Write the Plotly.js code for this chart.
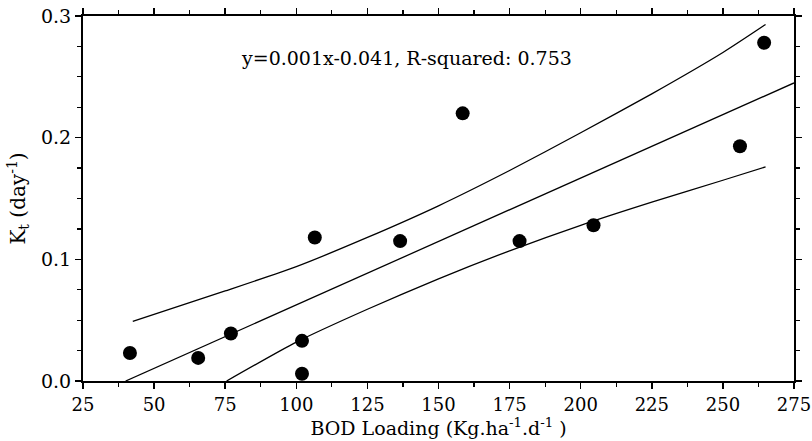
<!DOCTYPE html>
<html>
<head>
<meta charset="utf-8">
<script src="https://cdn.plot.ly/plotly-3.0.1.min.js"></script>
<style>html,body{margin:0;padding:0;background:#fff;}#chart{width:812px;height:441px;}</style>
</head>
<body>
<div id="chart"></div>
<script>
// Observed data points
const bodLoading = [41.5, 65.5, 77, 102, 102, 106.5, 136.5, 158.5, 178.5, 204.5, 256, 264.5];
const ktValues   = [0.023, 0.019, 0.039, 0.033, 0.006, 0.118, 0.115, 0.220, 0.115, 0.128, 0.193, 0.278];

// Fitted regression line
const fitX = [40, 275];
const fitY = [0.0, 0.245];

// Upper confidence band
const upperX = [42.5, 75, 100, 125, 150, 175, 200, 225, 250, 265];
const upperY = [0.049, 0.074, 0.094, 0.118, 0.144, 0.173, 0.204, 0.236, 0.270, 0.293];

// Lower confidence band
const lowerX = [75.5, 100, 125, 150, 175, 200, 225, 250, 265];
const lowerY = [0.0, 0.032, 0.059, 0.084, 0.107, 0.128, 0.147, 0.165, 0.176];

const annotationText = "y=0.001x-0.041, R-squared: 0.753";

const font = "'DejaVu Serif', 'Liberation Serif', serif";
const lineStyle = {color: '#000', width: 1.3, shape: 'spline', smoothing: 0.6};

const traces = [
  {x: upperX, y: upperY, mode: 'lines', line: lineStyle, hoverinfo: 'skip'},
  {x: fitX, y: fitY, mode: 'lines', line: {color: '#000', width: 1.3}, hoverinfo: 'skip'},
  {x: lowerX, y: lowerY, mode: 'lines', line: lineStyle, hoverinfo: 'skip'},
  {x: bodLoading, y: ktValues, mode: 'markers', marker: {color: '#000', size: 14}}
];

const layout = {
  width: 812, height: 441,
  margin: {l: 83, r: 18, t: 16, b: 60},
  showlegend: false,
  paper_bgcolor: '#fff', plot_bgcolor: '#fff',
  font: {family: font, color: '#000', size: 18},
  xaxis: {
    range: [25, 275], dtick: 25, tick0: 25,
    showgrid: false, zeroline: false,
    showline: true, linecolor: '#000', linewidth: 2, mirror: 'allticks',
    ticks: 'outside', ticklen: 6, tickwidth: 1.5, tickcolor: '#000',
    minor: {dtick: 12.5, ticks: 'outside', ticklen: 4, tickwidth: 1.2, tickcolor: '#000', showgrid: false},
    tickfont: {family: font, size: 18},
    ticklabeloverflow: 'allow',
    title: {text: "BOD Loading (Kg.ha<sup>-1</sup>.d<sup>-1</sup> )", font: {family: font, size: 19}, standoff: 3}
  },
  yaxis: {
    range: [0, 0.3], dtick: 0.1, tick0: 0, tickformat: '.1f',
    showgrid: false, zeroline: false,
    showline: true, linecolor: '#000', linewidth: 2, mirror: 'allticks',
    ticks: 'outside', ticklen: 6, tickwidth: 1.5, tickcolor: '#000',
    minor: {dtick: 0.025, ticks: 'outside', ticklen: 4, tickwidth: 1.2, tickcolor: '#000', showgrid: false},
    tickfont: {family: font, size: 19},
    title: {text: "K<sub>t</sub> (day<sup>-1</sup>)", font: {family: font, size: 20}, standoff: 10}
  },
  annotations: [{
    text: annotationText, xref: 'paper', yref: 'paper',
    x: 0.219, y: 0.886, xanchor: 'left', yanchor: 'middle',
    showarrow: false, font: {family: font, size: 19, color: '#000'}
  }]
};

Plotly.newPlot('chart', traces, layout, {displayModeBar: false, staticPlot: true});
</script>
</body>
</html>
